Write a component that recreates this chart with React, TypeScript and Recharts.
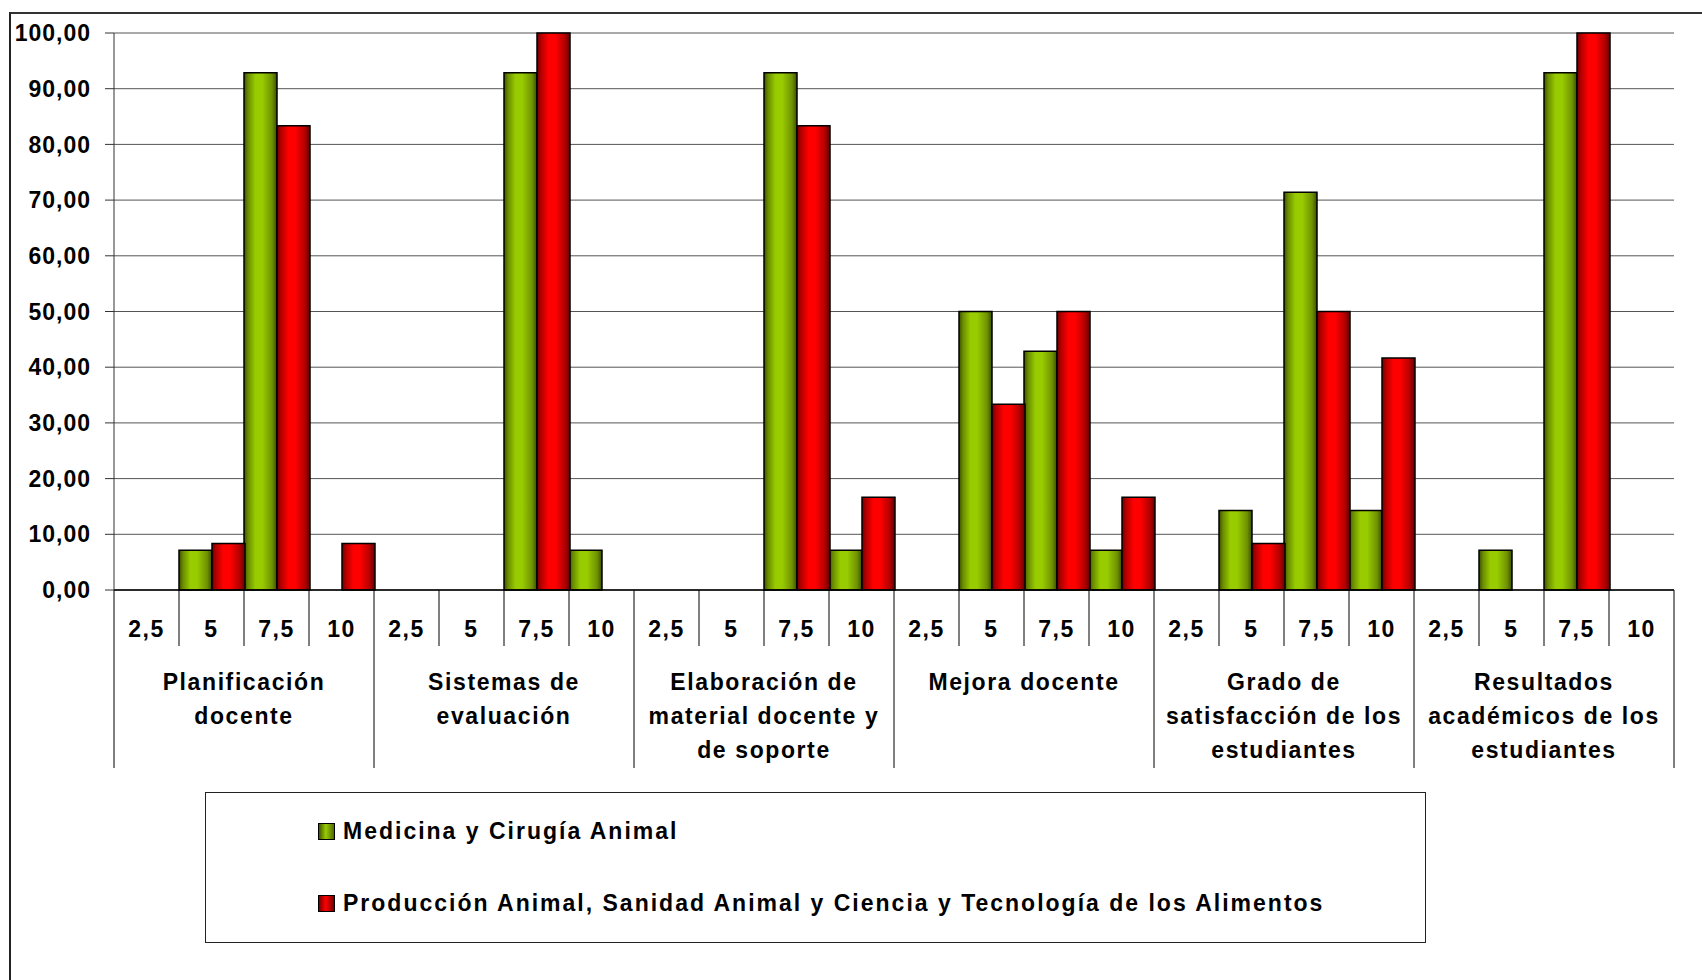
import { Bar, BarChart, CartesianGrid, XAxis, YAxis } from 'recharts';

const groups = [
  ['Planificación', 'docente'],
  ['Sistemas de', 'evaluación'],
  ['Elaboración de', 'material docente y', 'de soporte'],
  ['Mejora docente'],
  ['Grado de', 'satisfacción de los', 'estudiantes'],
  ['Resultados', 'académicos de los', 'estudiantes'],
];
const ratings = ['2,5', '5', '7,5', '10'];

// Medicina y Cirugía Animal, 4 ratings per group
const medicina = [
  0, 7.14, 92.86, 0,
  0, 0, 92.86, 7.14,
  0, 0, 92.86, 7.14,
  0, 50, 42.86, 7.14,
  0, 14.29, 71.43, 14.29,
  0, 7.14, 92.86, 0,
];
// Producción Animal, Sanidad Animal y Ciencia y Tecnología de los Alimentos
const produccion = [
  0, 8.33, 83.33, 8.33,
  0, 0, 100, 0,
  0, 0, 83.33, 16.67,
  0, 33.33, 50, 16.67,
  0, 8.33, 50, 41.67,
  0, 0, 100, 0,
];
const yTicks = [0, 10, 20, 30, 40, 50, 60, 70, 80, 90, 100];

const seriesNames = [
  'Medicina y Cirugía Animal',
  'Producción Animal, Sanidad Animal y Ciencia y Tecnología de los Alimentos',
];

const data = medicina.map((v, i) => ({
  key: `${i}`,
  rating: ratings[i % 4],
  group: Math.floor(i / 4),
  mca: v,
  pa: produccion[i],
}));

const FONT = '"Liberation Sans", Arial, sans-serif';
const BAND = (1702 - 114 - 28) / data.length;

const XTick = (props: any) => {
  const { x, y, index } = props;
  const d = data[index];
  const half = BAND / 2;
  const pos = index % 4;
  const lines = groups[d.group];
  return (
    <g>
      <text x={x} y={y + 47} textAnchor="middle" fontFamily={FONT} fontWeight="bold" fontSize={23} letterSpacing={1.5} fill="#000">
        {d.rating}
      </text>
      {index === 0 && <line x1={x - half} x2={x - half} y1={y} y2={y + 178} stroke="#000" strokeWidth={1} />}
      <line x1={x + half} x2={x + half} y1={y} y2={pos === 3 ? y + 178 : y + 56} stroke="#000" strokeWidth={1} />
      {pos === 0 &&
        lines.map((t, j) => (
          <text key={j} x={x - half + BAND * 2} y={y + 100 + j * 34} textAnchor="middle" fontFamily={FONT} fontWeight="bold" fontSize={23} letterSpacing={1.6} fill="#000">
            {t}
          </text>
        ))}
    </g>
  );
};

const swatch = (id: string) =>
  id === 'g'
    ? 'linear-gradient(to right, #3f5600, #99cc00 45%, #4d6a00)'
    : 'linear-gradient(to right, #7a0000, #ff0000 45%, #700000)';

export default function App() {
  return (
    <div style={{ position: 'absolute', left: 0, top: 0, width: 1702, height: 980, background: '#fff', overflow: 'hidden' }}>
      <div style={{ position: 'absolute', left: 9, top: 12, width: 1720, height: 1000, borderLeft: '2px solid #222', borderTop: '2px solid #333' }} />
      <div style={{ position: 'absolute', left: 0, top: 0 }}>
        <BarChart width={1702} height={980} data={data} margin={{ top: 33, right: 28, left: 0, bottom: 0 }} barCategoryGap={0} barGap={0}>
          <defs>
            <linearGradient id="gradGreen" x1="0" y1="0" x2="1" y2="0">
              <stop offset="0" stopColor="#3a4f00" />
              <stop offset="0.12" stopColor="#6a8c00" />
              <stop offset="0.35" stopColor="#99cc00" />
              <stop offset="0.55" stopColor="#99cc00" />
              <stop offset="0.85" stopColor="#6f9200" />
              <stop offset="1" stopColor="#3a4f00" />
            </linearGradient>
            <linearGradient id="gradRed" x1="0" y1="0" x2="1" y2="0">
              <stop offset="0" stopColor="#700000" />
              <stop offset="0.12" stopColor="#b30000" />
              <stop offset="0.35" stopColor="#ff0000" />
              <stop offset="0.55" stopColor="#ff0000" />
              <stop offset="0.85" stopColor="#b00000" />
              <stop offset="1" stopColor="#600000" />
            </linearGradient>
          </defs>
          <CartesianGrid vertical={false} stroke="#555" strokeWidth={1} />
          <XAxis
            dataKey="key"
            interval={0}
            height={390}
            tickSize={0}
            tickMargin={0}
            tickLine={false}
            axisLine={{ stroke: '#000', strokeWidth: 1.5 }}
            tick={<XTick />}
          />
          <YAxis
            domain={[0, 100]}
            ticks={yTicks}
            width={114}
            tickSize={9}
            tickMargin={14}
            tickLine={{ stroke: '#333' }}
            axisLine={{ stroke: '#333' }}
            tickFormatter={(v: number) => v.toFixed(2).replace('.', ',')}
            tick={{ fontFamily: FONT, fontWeight: 'bold', fontSize: 23, letterSpacing: 1, fill: '#000' }}
          />
          <YAxis yAxisId="r" orientation="right" width={0} domain={[0, 100]} tick={false} tickLine={false} axisLine={{ stroke: '#888', strokeWidth: 2 }} />
          <Bar dataKey="mca" name={seriesNames[0]} fill="url(#gradGreen)" stroke="#000" strokeWidth={1.5} isAnimationActive={false} />
          <Bar dataKey="pa" name={seriesNames[1]} fill="url(#gradRed)" stroke="#000" strokeWidth={1.5} isAnimationActive={false} />
        </BarChart>
      </div>
      <div style={{ position: 'absolute', left: 205, top: 792, width: 1219, height: 149, border: '1.5px solid #222', fontFamily: FONT, fontWeight: 'bold', fontSize: 23, letterSpacing: 2 }}>
        {seriesNames.map((n, i) => (
          <div key={n} style={{ position: 'absolute', left: 112, top: i === 0 ? 25 : 97, display: 'flex', alignItems: 'center', whiteSpace: 'nowrap' }}>
            <span style={{ display: 'inline-block', width: 15, height: 15, border: '1px solid #000', background: swatch(i === 0 ? 'g' : 'r'), marginRight: 8 }} />
            {n}
          </div>
        ))}
      </div>
    </div>
  );
}
